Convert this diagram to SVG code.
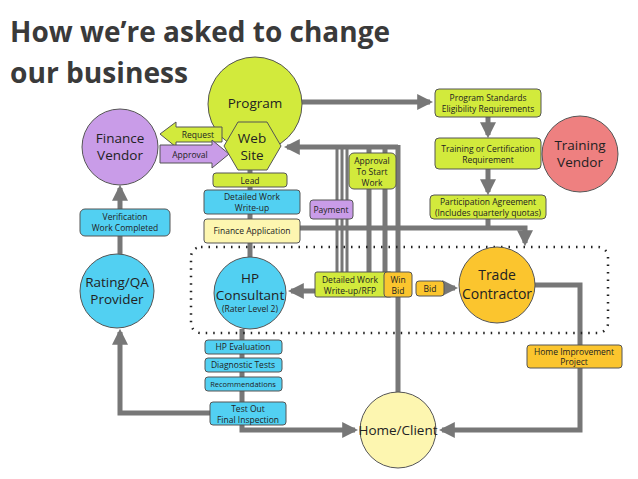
<svg xmlns="http://www.w3.org/2000/svg" width="638" height="479" viewBox="0 0 638 479">
<defs>
<style>
text{font-family:"Open Sans","Liberation Sans",sans-serif;text-anchor:middle;fill:#222}
.t{font-family:"Open Sans","Liberation Sans",sans-serif;font-weight:bold;font-size:29px;fill:#3a3a3a;text-anchor:start}
.c{font-size:13.5px}
.s{font-size:8.5px}
.ln{fill:none;stroke:#777;stroke-width:5}
.th{fill:none;stroke:#777;stroke-width:3}
.box{stroke:#555;stroke-width:1}
.g{fill:#d2ea3c}.b{fill:#52d0f2}.p{fill:#c99ce8}.o{fill:#fbc52e}.y{fill:#fdf6b0}
</style>
<marker id="a" viewBox="0 0 10 10" refX="8" refY="5" markerWidth="3.2" markerHeight="3.2" orient="auto"><path d="M0,0L10,5L0,10z" fill="#777"/></marker>
</defs>
<text class="t" x="10" y="42" textLength="380" lengthAdjust="spacingAndGlyphs">How we’re asked to change</text>
<text class="t" x="10" y="83" textLength="178" lengthAdjust="spacingAndGlyphs">our business</text>
<g id="connectors">
<path class="ln" d="M302,102H430" marker-end="url(#a)"/>
<path class="ln" d="M488,117V135" marker-end="url(#a)"/>
<path class="ln" d="M488,169V192" marker-end="url(#a)"/>
<path class="ln" d="M488,219V228"/>
<path class="ln" d="M300,228H525V243" marker-end="url(#a)"/>
<path class="ln" d="M398,147H287" marker-end="url(#a)"/>
<path class="th" d="M337,147V272M342,147V272M347,147V272"/>
<path class="ln" d="M369,147V272M385,147V272"/>
<path class="ln" d="M398,145V392"/>
<path class="ln" d="M315,291H291" marker-end="url(#a)"/>
<path class="ln" d="M444,288H455" marker-end="url(#a)"/>
<path class="ln" d="M535,285H580V430H442" marker-end="url(#a)"/>
<path class="ln" d="M250,170V257"/>
<path class="ln" d="M242,329V430H355" marker-end="url(#a)"/>
<path class="ln" d="M210,413H120V332" marker-end="url(#a)"/>
<path class="ln" d="M120,254V188" marker-end="url(#a)"/>
</g>
<rect x="191" y="247" width="417" height="86" rx="10" fill="none" stroke="#222" stroke-width="2.5" stroke-dasharray="1.5 6"/>
<g id="program"><circle cx="255" cy="104" r="47" class="g box"/><text class="c" x="255" y="108">Program</text></g>
<g id="request"><path d="M160,134L176,122V127H222V142H176V147z" class="g box"/><text class="s" x="198" y="138">Request</text></g>
<g id="approval"><path d="M160,145H212V140L229,154L212,168V163H160z" class="p box"/><text class="s" x="190" y="158">Approval</text></g>
<g id="website"><path d="M224,146L238,122H267L281,146L267,170H238z" class="g box"/><text class="c" x="252" y="143">Web</text><text class="c" x="252" y="160">Site</text></g>
<g id="finance-vendor"><circle cx="120" cy="147" r="38" class="p box"/><text class="c" x="120" y="143">Finance</text><text class="c" x="120" y="160">Vendor</text></g>
<g id="lead"><rect x="213" y="173" width="74" height="14" rx="3" class="g box"/><text class="s" x="250" y="184">Lead</text></g>
<g id="dwu"><rect x="204" y="190" width="96" height="24" rx="3" class="b box"/><text class="s" x="252" y="200">Detailed Work</text><text class="s" x="252" y="211">Write-up</text></g>
<g id="fa"><rect x="204" y="219" width="96" height="24" rx="3" class="y box"/><text class="s" x="252" y="234">Finance Application</text></g>
<g id="verif"><rect x="80" y="209" width="90" height="27" rx="5" class="b box"/><text class="s" x="125" y="220">Verification</text><text class="s" x="125" y="231">Work Completed</text></g>
<g id="rating"><circle cx="117" cy="291" r="37" class="b box"/><text class="c" x="117" y="287">Rating/QA</text><text class="c" x="117" y="304">Provider</text></g>
<g id="hp"><circle cx="250" cy="293" r="36" class="b box"/><text class="c" x="250" y="283">HP</text><text class="c" x="250" y="300">Consultant</text><text class="s" x="250" y="312">(Rater Level 2)</text></g>
<g id="trade"><circle cx="497" cy="285" r="38" class="o box"/><text x="497" y="280" font-size="14">Trade</text><text x="497" y="299" font-size="14">Contractor</text></g>
<g id="training-vendor"><circle cx="580" cy="154" r="38" fill="#ee8080" class="box"/><text class="c" x="580" y="150">Training</text><text class="c" x="580" y="167">Vendor</text></g>
<g id="ps"><rect x="435" y="89" width="106" height="28" rx="4" class="g box"/><text class="s" x="488" y="101">Program Standards</text><text class="s" x="488" y="112">Eligibility Requirements</text></g>
<g id="tr"><rect x="435" y="138" width="106" height="31" rx="4" class="g box"/><text class="s" x="488" y="152">Training or Certification</text><text class="s" x="488" y="163">Requirement</text></g>
<g id="pa"><rect x="430" y="195" width="116" height="24" rx="4" class="g box"/><text class="s" x="488" y="205">Participation Agreement</text><text class="s" x="488" y="216">(Includes quarterly quotas)</text></g>
<g id="ats"><rect x="349" y="153" width="47" height="36" rx="5" class="g box"/><text class="s" x="372" y="164">Approval</text><text class="s" x="372" y="175">To Start</text><text class="s" x="372" y="186">Work</text></g>
<g id="payment"><rect x="310" y="200" width="43" height="19" rx="3" class="p box"/><text class="s" x="331" y="213">Payment</text></g>
<g id="rfp"><rect x="315" y="272" width="77" height="25" rx="2" class="g box"/><text class="s" x="350" y="283">Detailed Work</text><text class="s" x="350" y="294">Write-up/RFP</text></g>
<g id="winbid"><rect x="384" y="272" width="28" height="25" rx="3" class="o box"/><text class="s" x="398" y="283">Win</text><text class="s" x="398" y="294">Bid</text></g>
<g id="bid"><rect x="416" y="281" width="28" height="15" rx="3" class="o box"/><text class="s" x="430" y="292">Bid</text></g>
<g id="hip"><rect x="527" y="345" width="95" height="23" rx="3" class="o box"/><text class="s" x="574" y="355">Home Improvement</text><text class="s" x="574" y="365">Project</text></g>
<g id="hpe"><rect x="205" y="340" width="77" height="14" rx="3" class="b box"/><text class="s" x="243" y="350">HP Evaluation</text></g>
<g id="dt"><rect x="205" y="358" width="77" height="14" rx="3" class="b box"/><text class="s" x="243" y="368">Diagnostic Tests</text></g>
<g id="rec"><rect x="205" y="377" width="77" height="14" rx="3" class="b box"/><text x="243" y="387" font-size="7.5">Recommendations</text></g>
<g id="test"><rect x="210" y="402" width="76" height="23" rx="3" class="b box"/><text class="s" x="248" y="412">Test Out</text><text class="s" x="248" y="423">Final Inspection</text></g>
<g id="home"><circle cx="398" cy="430" r="38" class="y box"/><text class="c" x="398" y="435">Home/Client</text></g>
</svg>
